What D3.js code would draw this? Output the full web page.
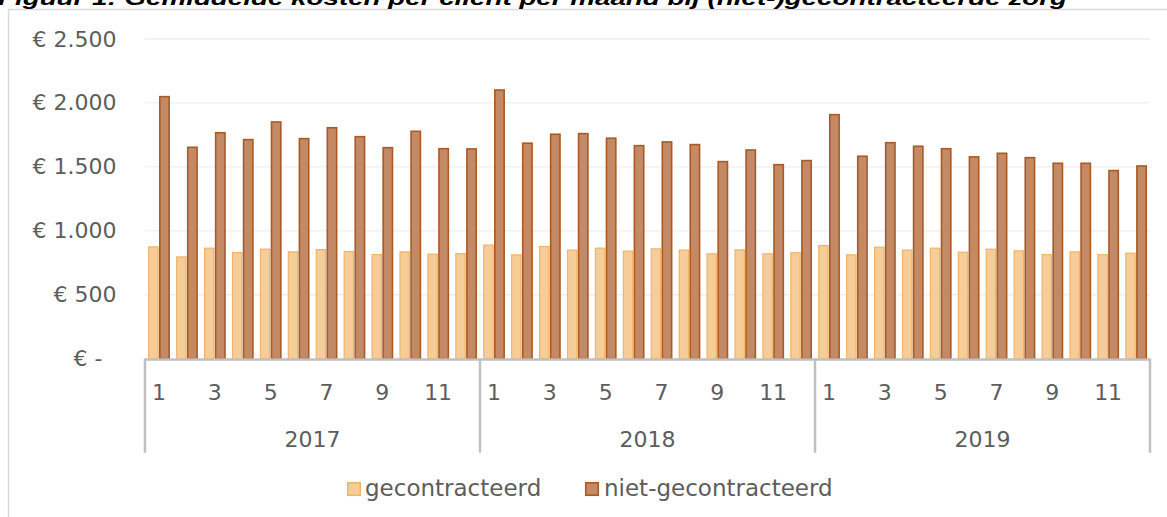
<!DOCTYPE html>
<html>
<head>
<meta charset="utf-8">
<script src="https://cdn.jsdelivr.net/npm/d3@7"></script>
<style>
  html, body { margin: 0; padding: 0; background: #ffffff; }
  svg { display: block; }
</style>
</head>
<body>
<svg id="chart" width="1167" height="517"></svg>
<script>
// ---- data ----
const years = ["2017", "2018", "2019"];
const months = ["1","2","3","4","5","6","7","8","9","10","11","12"];
const shownMonths = ["1","3","5","7","9","11"];
const seriesNames = ["gecontracteerd", "niet-gecontracteerd"];
const gecontracteerd = [
  880, 802, 870, 836, 862, 841, 859, 844, 820, 841, 823, 828,
  894, 818, 883, 855, 870, 847, 865, 855, 826, 857, 826, 834,
  891, 818, 878, 855, 870, 839, 862, 849, 820, 841, 820, 831
];
const nietGecontracteerd = [
  2055, 1659, 1773, 1719, 1857, 1727, 1812, 1742, 1656, 1784, 1648, 1646,
  2107, 1691, 1761, 1766, 1730, 1672, 1701, 1680, 1547, 1638, 1523, 1555,
  1914, 1589, 1695, 1667, 1648, 1584, 1612, 1578, 1534, 1534, 1477, 1513
];
const yTicks = [0, 500, 1000, 1500, 2000, 2500];
const yTickLabels = ["€ -\u00a0\u00a0", "€ 500", "€ 1.000", "€ 1.500", "€ 2.000", "€ 2.500"];
const title = "Figuur 1: Gemiddelde kosten per cliënt per maand bij (niet-)gecontracteerde zorg";

// ---- build ----
const svg = d3.select("#chart");
const font = "'DejaVu Sans', sans-serif";
const textColor = "#5d5d5d";
const fills = ["#f6cd98", "#c48a66"];
const strokes = ["#f0b466", "#a95a25"];

const x0 = 145, x1 = 1150, yTop = 39, yBase = 358.7;

const categories = [];
years.forEach(y => months.forEach(m => categories.push(y + "-" + m)));
const table = categories.map((c, i) => ({
  key: c, year: c.split("-")[0], month: c.split("-")[1],
  values: [gecontracteerd[i], nietGecontracteerd[i]]
}));

const x = d3.scaleBand().domain(categories).range([x0, x1])
  .paddingInner(0.2).paddingOuter(0.1);
const xs = d3.scaleBand().domain(seriesNames).range([0, x.bandwidth()]).padding(0.02);
const xYear = d3.scaleBand().domain(years).range([x0, x1]);
const y = d3.scaleLinear().domain([0, 2500]).range([yBase, yTop]);

// outer frame
svg.append("path")
  .attr("d", `M8.5,517 L8.5,9.5 L1167,9.5`)
  .attr("fill", "none").attr("stroke", "#d9d9d9").attr("stroke-width", 1.5);

// title (partly cut off at the top)
svg.append("text")
  .attr("x", -2).attr("y", 4.5)
  .attr("font-family", "'Liberation Sans', Arial, sans-serif")
  .attr("font-weight", "bold").attr("font-style", "italic")
  .attr("font-size", 21).attr("fill", "#000")
  .attr("textLength", 1069).attr("lengthAdjust", "spacingAndGlyphs")
  .text(title);

// gridlines
svg.append("g").selectAll("line").data(yTicks.slice(1)).join("line")
  .attr("x1", x0).attr("x2", x1)
  .attr("y1", d => y(d)).attr("y2", d => y(d))
  .attr("stroke", "#efefef").attr("stroke-width", 1.3);

// y axis labels
const yAxis = d3.axisLeft(y).tickValues(yTicks)
  .tickFormat((d, i) => yTickLabels[i]).tickSize(0).tickPadding(0);
const gy = svg.append("g").attr("transform", "translate(116.5,0)").call(yAxis);
gy.select(".domain").remove();
gy.selectAll("text").attr("font-family", font).attr("font-size", 22)
  .attr("fill", textColor).attr("xml:space", "preserve").style("white-space", "pre");

// bars
const groups = svg.append("g").selectAll("g").data(table).join("g")
  .attr("transform", d => `translate(${x(d.key)},0)`);
groups.selectAll("rect").data(d => d.values.map((v, i) => ({ s: seriesNames[i], i, v })))
  .join("rect")
  .attr("x", d => xs(d.s) + 0.75)
  .attr("width", xs.bandwidth() - 1.5)
  .attr("y", d => y(d.v) + 0.75)
  .attr("height", d => yBase - y(d.v) - 0.75)
  .attr("fill", d => fills[d.i])
  .attr("stroke", d => strokes[d.i])
  .attr("stroke-width", d => d.i === 0 ? 1.2 : 1.6);

// x axis baseline and dividers
const axisColor = "#c0c0c0";
svg.append("line").attr("x1", x0).attr("x2", x1)
  .attr("y1", 359.5).attr("y2", 359.5)
  .attr("stroke", axisColor).attr("stroke-width", 2.5);
const dividers = years.map(yv => xYear(yv)).concat([xYear(years[years.length - 1]) + xYear.bandwidth()]);
svg.append("g").selectAll("line").data(dividers).join("line")
  .attr("x1", d => d).attr("x2", d => d)
  .attr("y1", 358.5).attr("y2", 452.7)
  .attr("stroke", axisColor).attr("stroke-width", 2.5);

// month labels
svg.append("g").selectAll("text")
  .data(table.filter(d => shownMonths.includes(d.month)))
  .join("text")
  .attr("x", d => x(d.key) + x.bandwidth() / 2)
  .attr("y", 399.5)
  .attr("text-anchor", "middle")
  .attr("font-family", font).attr("font-size", 22).attr("fill", textColor)
  .text(d => d.month);

// year labels
svg.append("g").selectAll("text").data(years).join("text")
  .attr("x", d => xYear(d) + xYear.bandwidth() / 2)
  .attr("y", 446.5)
  .attr("text-anchor", "middle")
  .attr("font-family", font).attr("font-size", 22).attr("fill", textColor)
  .text(d => d);

// legend
const legendX = [347, 585];
const lg = svg.append("g").selectAll("g").data(seriesNames).join("g")
  .attr("transform", (d, i) => `translate(${legendX[i]},482)`);
lg.append("rect").attr("x", 0.75).attr("y", 0.75).attr("width", 12.5).attr("height", 12.5)
  .attr("fill", (d, i) => fills[i]).attr("stroke", (d, i) => strokes[i]).attr("stroke-width", 1.6);
lg.append("text").attr("x", (d, i) => i === 0 ? 18 : 19).attr("y", 14)
  .attr("font-family", font).attr("font-size", 23).attr("fill", textColor)
  .text(d => d);
</script>
</body>
</html>
